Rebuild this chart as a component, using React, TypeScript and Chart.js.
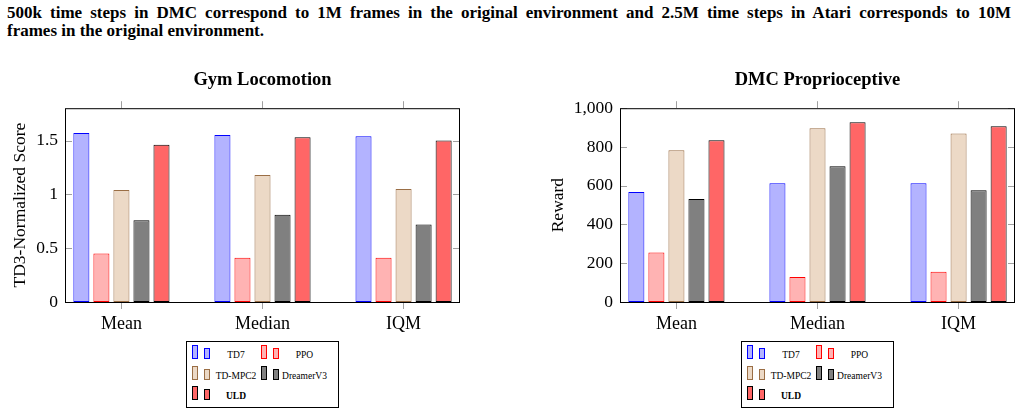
import React, { useEffect, useRef } from 'react';
import { Chart, registerables } from 'chart.js';

Chart.register(...registerables);

// categories and methods
const categories = ['Mean', 'Median', 'IQM'];
const methods = ['TD7', 'PPO', 'TD-MPC2', 'DreamerV3', 'ULD'];

// Gym Locomotion (TD3-normalized score)
const gymTD7 = [1.57, 1.55, 1.54];
const gymPPO = [0.45, 0.41, 0.41];
const gymTDMPC2 = [1.04, 1.18, 1.05];
const gymDreamerV3 = [0.76, 0.81, 0.72];
const gymULD = [1.46, 1.53, 1.5];

// DMC Proprioceptive (reward)
const dmcTD7 = [567, 613, 613];
const dmcPPO = [256, 129, 156];
const dmcTDMPC2 = [783, 897, 869];
const dmcDreamerV3 = [531, 701, 577];
const dmcULD = [835, 928, 907];

const fills = ['#b3b3ff', '#ffb3b3', '#ecd9c6', '#808080', '#ff6666'];
const borders = ['#0000ff', '#ff0000', '#9a6e45', '#000000', '#000000'];

const SERIF = '"Liberation Serif", "DejaVu Serif", serif';
const catTicks = categories.map((_, i) => i);

const framePlugin = {
    id: 'frame',
    beforeDatasetsDraw(chart: any) {
        const { ctx, chartArea: a, scales } = chart;
        const y = scales.y;
        ctx.save();
        ctx.strokeStyle = '#a0a0a0';
        ctx.lineWidth = 1;
        y.ticks.forEach((t: any) => {
            const py = Math.round(y.getPixelForValue(t.value)) + 0.5;
            ctx.beginPath();
            ctx.moveTo(a.left, py);
            ctx.lineTo(a.left + 7, py);
            ctx.moveTo(a.right - 7, py);
            ctx.lineTo(a.right, py);
            ctx.stroke();
        });
        ctx.restore();
    },
    afterDatasetsDraw(chart: any) {
        const { ctx, chartArea: a } = chart;
        ctx.save();
        ctx.strokeStyle = '#000';
        ctx.lineWidth = 1;
        ctx.strokeRect(a.left + 0.5, a.top + 0.5, a.right - a.left - 1, a.bottom - a.top);
        ctx.restore();
    },
};

type BarProps = {
    title: string;
    yTitle: string;
    yMax: number;
    yStep: number;
    series: number[][];
    axisWidth: number;
    titlePad: number;
    rightPad: number;
    width: number;
    height: number;
    formatY?: (v: number) => string;
};

const BarPanel: React.FC<BarProps> = ({ title, yTitle, yMax, yStep, series, axisWidth, titlePad, rightPad, width, height, formatY }) => {
    const canvasRef = useRef<HTMLCanvasElement | null>(null);

    useEffect(() => {
        const canvas = canvasRef.current;
        if (!canvas) return;
        const setCats = (s: any) => {
            s.ticks = catTicks.map((v) => ({ value: v }));
        };
        const chart = new Chart(canvas, {
            type: 'bar',
            data: {
                datasets: methods.map((m, k) => ({
                    label: m,
                    data: series[k].map((v, i) => ({ x: i, y: v })),
                    backgroundColor: fills[k],
                    borderColor: borders[k],
                    borderWidth: 1,
                    borderSkipped: false,
                    categoryPercentage: 0.71,
                    barPercentage: 0.8,
                })),
            },
            options: {
                animation: false,
                responsive: true,
                maintainAspectRatio: false,
                layout: { padding: { left: 0, right: rightPad, top: 0, bottom: 0 } },
                plugins: {
                    legend: { display: false },
                    tooltip: { enabled: false },
                    title: {
                        display: true,
                        text: title,
                        fullSize: false,
                        color: '#000',
                        font: { family: SERIF, size: 18.5, weight: 'bold', lineHeight: 1.2 },
                        padding: { top: 9, bottom: 0 },
                    },
                },
                scales: {
                    x: {
                        type: 'linear',
                        position: 'bottom',
                        offset: false,
                        min: -0.4,
                        max: categories.length - 0.6,
                        afterBuildTicks: setCats,
                        afterFit: (s: any) => {
                            s.height = height - 242;
                        },
                        ticks: {
                            callback: (v: any) => categories[v as number] ?? '',
                            color: '#000',
                            font: { family: SERIF, size: 18 },
                            padding: 4,
                            maxRotation: 0,
                        },
                        grid: { offset: false, drawOnChartArea: false, drawTicks: true, tickLength: 7, color: '#a0a0a0' },
                        border: { display: false },
                    },
                    xTop: {
                        type: 'linear',
                        position: 'top',
                        offset: false,
                        min: -0.4,
                        max: categories.length - 0.6,
                        afterBuildTicks: setCats,
                        afterFit: (s: any) => {
                            s.height = 17;
                        },
                        ticks: { display: false },
                        grid: { offset: false, drawOnChartArea: false, drawTicks: true, tickLength: 7, color: '#a0a0a0' },
                        border: { display: false },
                    },
                    y: {
                        min: 0,
                        max: yMax,
                        afterFit: (s: any) => {
                            s.width = axisWidth;
                        },
                        ticks: {
                            stepSize: yStep,
                            includeBounds: false,
                            color: '#000',
                            font: { family: SERIF, size: 17.5 },
                            padding: 7,
                            callback: (v: any) => (formatY ? formatY(v) : String(v)),
                        },
                        grid: { display: false, drawTicks: false },
                        border: { display: false },
                        title: {
                            display: true,
                            text: yTitle,
                            color: '#000',
                            font: { family: SERIF, size: 17.5, lineHeight: 1.2 },
                            padding: { top: titlePad, bottom: 0 },
                        },
                    },
                },
            },
            plugins: [framePlugin],
        });
        return () => {
            chart.destroy();
        };
    }, []);

    return (
        <div style={{ width, height, position: 'relative' }}>
            <canvas ref={canvasRef} />
        </div>
    );
};

const Legend: React.FC<{ left: number; top: number }> = ({ left, top }) => (
    <div
        style={{
            position: 'absolute',
            left,
            top,
            width: 153,
            height: 67,
            border: '1px solid #000',
            boxSizing: 'border-box',
            fontFamily: SERIF,
            fontSize: 9.5,
            color: '#000',
        }}
    >
        {methods.map((m, k) => {
            const col = k % 2;
            const row = Math.floor(k / 2);
            const baseY = 17 + row * 20.5;
            const x0 = 5 + col * 68.5;
            return (
                <React.Fragment key={m}>
                    <div
                        style={{
                            position: 'absolute',
                            left: x0,
                            top: baseY - 14,
                            width: 6,
                            height: 14,
                            background: fills[k],
                            border: `1px solid ${borders[k]}`,
                            boxSizing: 'border-box',
                        }}
                    />
                    <div
                        style={{
                            position: 'absolute',
                            left: x0 + 12,
                            top: baseY - 11,
                            width: 6,
                            height: 11,
                            background: fills[k],
                            border: `1px solid ${borders[k]}`,
                            boxSizing: 'border-box',
                        }}
                    />
                    <div
                        style={{
                            position: 'absolute',
                            left: x0 + 21,
                            width: 46,
                            top: baseY - 10,
                            lineHeight: '12px',
                            textAlign: 'center',
                            whiteSpace: 'nowrap',
                            fontWeight: m === 'ULD' ? 'bold' : 'normal',
                        }}
                    >
                        {m}
                    </div>
                </React.Fragment>
            );
        })}
    </div>
);

const App: React.FC = () => {
    return (
        <div
            style={{
                position: 'fixed',
                left: 0,
                top: 0,
                width: 1022,
                height: 416,
                background: '#fff',
                overflow: 'hidden',
            }}
        >
            <div
                style={{
                    position: 'absolute',
                    left: 7,
                    top: 4,
                    width: 1004,
                    fontFamily: SERIF,
                    fontWeight: 'bold',
                    fontSize: 17,
                    lineHeight: '18.3px',
                    color: '#000',
                }}
            >
                <div style={{ textAlign: 'justify', textAlignLast: 'justify' }}>
                    500k time steps in DMC correspond to 1M frames in the original environment and 2.5M time steps in Atari corresponds to 10M
                </div>
                <div>frames in the original environment.</div>
            </div>
            <div style={{ position: 'absolute', left: 0, top: 60 }}>
                <BarPanel
                    title="Gym Locomotion"
                    yTitle="TD3-Normalized Score"
                    yMax={1.8}
                    yStep={0.5}
                    series={[gymTD7, gymPPO, gymTDMPC2, gymDreamerV3, gymULD]}
                    axisWidth={65}
                    titlePad={9.5}
                    rightPad={10}
                    width={470}
                    height={280}
                />
            </div>
            <div style={{ position: 'absolute', left: 540, top: 60 }}>
                <BarPanel
                    title="DMC Proprioceptive"
                    yTitle="Reward"
                    yMax={1000}
                    yStep={200}
                    series={[dmcTD7, dmcPPO, dmcTDMPC2, dmcDreamerV3, dmcULD]}
                    axisWidth={80}
                    titlePad={7.5}
                    rightPad={7}
                    width={482}
                    height={280}
                    formatY={(v) => v.toLocaleString('en-US')}
                />
            </div>
            <Legend left={186} top={341} />
            <Legend left={741} top={341} />
        </div>
    );
};

export default App;
